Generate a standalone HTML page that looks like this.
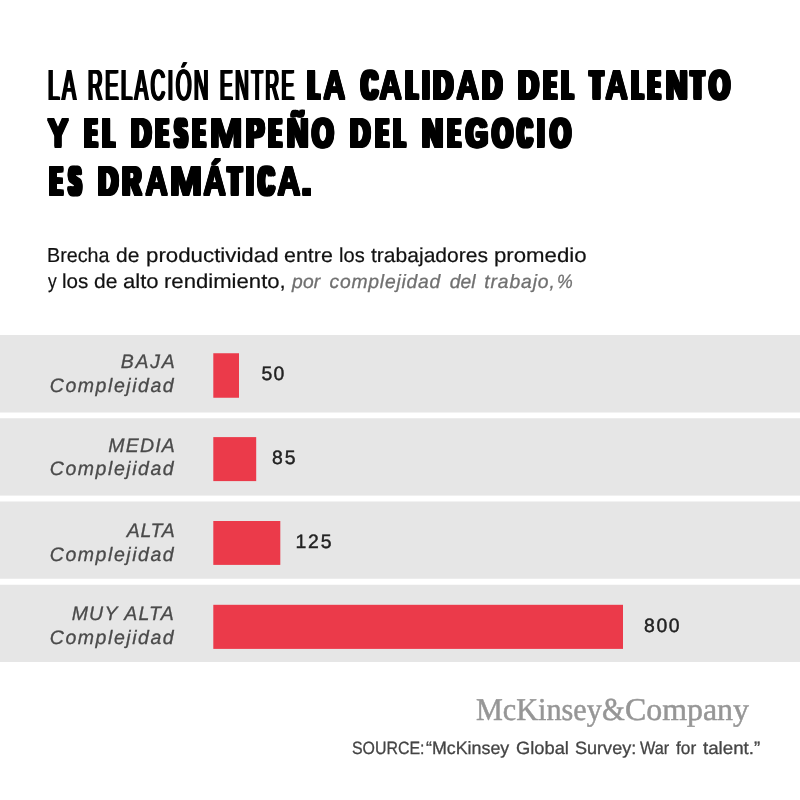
<!DOCTYPE html><html lang="es"><head><meta charset="utf-8"><title>La relación entre la calidad del talento y el desempeño del negocio</title><style>
html,body{margin:0;padding:0;background:#fff}
#p{position:relative;width:800px;height:800px;overflow:hidden;background:#fff}
.g{position:absolute;left:0;top:0;width:800px;height:0;margin:0;padding:0;font-size:0;line-height:0;white-space:nowrap;font-weight:400}
.t{display:inline-block;position:relative;width:0;height:0;overflow:visible;vertical-align:top;white-space:pre;line-height:1;transform-origin:0 0;margin:0;padding:0;text-rendering:geometricPrecision;stroke-linejoin:miter;stroke-miterlimit:4}
.pl i{display:inline-block;font-style:normal;transform-origin:0 0;vertical-align:baseline;white-space:pre}
.band{position:absolute;left:0;width:800px;background:#e6e6e6}
.bar{position:absolute;background:#eb3a4a}
.hl{font-family:"Liberation Sans", sans-serif;font-weight:400;font-style:normal;font-size:43.6px;color:#000}
.hb{font-family:"Liberation Sans", sans-serif;font-weight:700;font-style:normal;font-size:40.7px;color:#000}
.sub{font-family:"Liberation Sans", sans-serif;font-weight:400;font-style:normal;font-size:20.2px;color:#111;-webkit-text-stroke:0.2px #111}
.subi{font-family:"Liberation Sans", sans-serif;font-weight:400;font-style:italic;font-size:19.3px;color:#707070;-webkit-text-stroke:0.3px #707070}
.lab{font-family:"Liberation Sans", sans-serif;font-weight:400;font-style:italic;font-size:19.5px;color:#4a4a4a;-webkit-text-stroke:0.3px #4a4a4a}
.val{font-family:"Liberation Sans", sans-serif;font-weight:400;font-style:normal;font-size:19.4px;color:#222;-webkit-text-stroke:0.45px #222}
.mck{font-family:"Liberation Serif", serif;font-weight:400;font-style:normal;font-size:31.8px;color:#969696;-webkit-text-stroke:0.5px #969696}
.src{font-family:"Liberation Sans", sans-serif;font-weight:400;font-style:normal;font-size:17.8px;color:#444;-webkit-text-stroke:0.3px #444}
</style></head><body><div id="p">
<svg width="800" height="800" viewBox="0 0 800 800" style="position:absolute;left:0;top:0" aria-hidden="true">
<rect x="0" y="335" width="800" height="77.50" fill="#e6e6e6"/>
<rect x="0" y="418.25" width="800" height="77.35" fill="#e6e6e6"/>
<rect x="0" y="501.5" width="800" height="77.25" fill="#e6e6e6"/>
<rect x="0" y="584.75" width="800" height="77.25" fill="#e6e6e6"/>
<rect x="213.3" y="353.25" width="25.70" height="44.50" fill="#eb3a4a"/>
<rect x="213.3" y="437.1" width="42.90" height="44.00" fill="#eb3a4a"/>
<rect x="213.3" y="521" width="67.00" height="43.90" fill="#eb3a4a"/>
<rect x="213.3" y="604.8" width="409.70" height="44.10" fill="#eb3a4a"/>
</svg>
<h1 class="g"><span class="t hl" style="left:48.33px;top:65.00px;transform:scaleX(0.4767);letter-spacing:5.244px;font-kerning:none;text-shadow:2.41px 0 0 #000,-2.41px 0 0 #000,1.15px 0 0 #000,-1.15px 0 0 #000">LA</span> <span class="t hl" style="left:88.08px;top:65.00px;transform:scaleX(0.4622);letter-spacing:5.409px;font-kerning:none;text-shadow:2.49px 0 0 #000,-2.49px 0 0 #000,1.19px 0 0 #000,-1.19px 0 0 #000">RELACIÓN</span> <span class="t hl" style="left:220.27px;top:65.00px;transform:scaleX(0.4339);letter-spacing:5.761px;font-kerning:none;text-shadow:2.65px 0 0 #000,-2.65px 0 0 #000,1.27px 0 0 #000,-1.27px 0 0 #000">ENTRE</span> <span class="t hb pl" style="left:306.50px;top:65px"><i style="width:16.50px;transform:translateX(1.85px) scaleX(0.3895);text-shadow:0.00px 1.00px 0 #000,0.00px -1.00px 0 #000,7.29px 0.00px 0 #000,7.29px 1.00px 0 #000,7.29px -1.00px 0 #000,-7.29px 0.00px 0 #000,-7.29px 1.00px 0 #000,-7.29px -1.00px 0 #000,3.69px 0.00px 0 #000,3.69px 1.00px 0 #000,3.69px -1.00px 0 #000,-3.69px 0.00px 0 #000,-3.69px 1.00px 0 #000,-3.69px -1.00px 0 #000">L</i><i style="width:22.60px;transform:translateX(0.53px) scaleX(0.7362);text-shadow:0.00px 1.00px 0 #000,0.00px -1.00px 0 #000,1.36px 0.00px 0 #000,1.36px 1.00px 0 #000,1.36px -1.00px 0 #000,-1.36px 0.00px 0 #000,-1.36px 1.00px 0 #000,-1.36px -1.00px 0 #000">A</i></span> <span class="t hb pl" style="left:359.75px;top:65px"><i style="width:19.65px;transform:translateX(1.68px) scaleX(0.5448);text-shadow:0.00px 1.00px 0 #000,0.00px -1.00px 0 #000,4.36px 0.00px 0 #000,4.36px 1.00px 0 #000,4.36px -1.00px 0 #000,-4.36px 0.00px 0 #000,-4.36px 1.00px 0 #000,-4.36px -1.00px 0 #000,1.79px 0.00px 0 #000,1.79px 1.00px 0 #000,1.79px -1.00px 0 #000,-1.79px 0.00px 0 #000,-1.79px 1.00px 0 #000,-1.79px -1.00px 0 #000">C</i><i style="width:25.60px;transform:translateX(0.52px) scaleX(0.7541);text-shadow:0.00px 1.00px 0 #000,0.00px -1.00px 0 #000,1.33px 0.00px 0 #000,1.33px 1.00px 0 #000,1.33px -1.00px 0 #000,-1.33px 0.00px 0 #000,-1.33px 1.00px 0 #000,-1.33px -1.00px 0 #000">A</i><i style="width:17.10px;transform:translateX(1.74px) scaleX(0.4087);text-shadow:0.00px 1.00px 0 #000,0.00px -1.00px 0 #000,6.81px 0.00px 0 #000,6.81px 1.00px 0 #000,6.81px -1.00px 0 #000,-6.81px 0.00px 0 #000,-6.81px 1.00px 0 #000,-6.81px -1.00px 0 #000,3.38px 0.00px 0 #000,3.38px 1.00px 0 #000,3.38px -1.00px 0 #000,-3.38px 0.00px 0 #000,-3.38px 1.00px 0 #000,-3.38px -1.00px 0 #000">L</i><i style="width:11.20px;transform:translateX(0.04px) scaleX(0.6919);text-shadow:0.00px 1.00px 0 #000,0.00px -1.00px 0 #000,2.60px 0.00px 0 #000,2.60px 1.00px 0 #000,2.60px -1.00px 0 #000,-2.60px 0.00px 0 #000,-2.60px 1.00px 0 #000,-2.60px -1.00px 0 #000,0.58px 0.00px 0 #000,0.58px 1.00px 0 #000,0.58px -1.00px 0 #000,-0.58px 0.00px 0 #000,-0.58px 1.00px 0 #000,-0.58px -1.00px 0 #000">I</i><i style="width:22.70px;transform:translateX(0.28px) scaleX(0.6727);text-shadow:0.00px 1.00px 0 #000,0.00px -1.00px 0 #000,2.97px 0.00px 0 #000,2.97px 1.00px 0 #000,2.97px -1.00px 0 #000,-2.97px 0.00px 0 #000,-2.97px 1.00px 0 #000,-2.97px -1.00px 0 #000,0.88px 0.00px 0 #000,0.88px 1.00px 0 #000,0.88px -1.00px 0 #000,-0.88px 0.00px 0 #000,-0.88px 1.00px 0 #000,-0.88px -1.00px 0 #000">D</i><i style="width:25.90px;transform:translateX(0.51px) scaleX(0.7648);text-shadow:0.00px 1.00px 0 #000,0.00px -1.00px 0 #000,1.31px 0.00px 0 #000,1.31px 1.00px 0 #000,1.31px -1.00px 0 #000,-1.31px 0.00px 0 #000,-1.31px 1.00px 0 #000,-1.31px -1.00px 0 #000">A</i><i style="width:21.20px;transform:translateX(0.26px) scaleX(0.6778);text-shadow:0.00px 1.00px 0 #000,0.00px -1.00px 0 #000,2.92px 0.00px 0 #000,2.92px 1.00px 0 #000,2.92px -1.00px 0 #000,-2.92px 0.00px 0 #000,-2.92px 1.00px 0 #000,-2.92px -1.00px 0 #000,0.85px 0.00px 0 #000,0.85px 1.00px 0 #000,0.85px -1.00px 0 #000,-0.85px 0.00px 0 #000,-0.85px 1.00px 0 #000,-0.85px -1.00px 0 #000">D</i></span> <span class="t hb pl" style="left:517.75px;top:65px"><i style="width:25.35px;transform:translateX(0.13px) scaleX(0.7009);text-shadow:0.00px 1.00px 0 #000,0.00px -1.00px 0 #000,2.73px 0.00px 0 #000,2.73px 1.00px 0 #000,2.73px -1.00px 0 #000,-2.73px 0.00px 0 #000,-2.73px 1.00px 0 #000,-2.73px -1.00px 0 #000,0.73px 0.00px 0 #000,0.73px 1.00px 0 #000,0.73px -1.00px 0 #000,-0.73px 0.00px 0 #000,-0.73px 1.00px 0 #000,-0.73px -1.00px 0 #000">D</i><i style="width:18.15px;transform:translateX(1.80px) scaleX(0.3985);text-shadow:0.00px 1.00px 0 #000,0.00px -1.00px 0 #000,7.06px 0.00px 0 #000,7.06px 1.00px 0 #000,7.06px -1.00px 0 #000,-7.06px 0.00px 0 #000,-7.06px 1.00px 0 #000,-7.06px -1.00px 0 #000,3.54px 0.00px 0 #000,3.54px 1.00px 0 #000,3.54px -1.00px 0 #000,-3.54px 0.00px 0 #000,-3.54px 1.00px 0 #000,-3.54px -1.00px 0 #000">E</i><i style="width:13.75px;transform:translateX(1.97px) scaleX(0.3672);text-shadow:0.00px 1.00px 0 #000,0.00px -1.00px 0 #000,7.91px 0.00px 0 #000,7.91px 1.00px 0 #000,7.91px -1.00px 0 #000,-7.91px 0.00px 0 #000,-7.91px 1.00px 0 #000,-7.91px -1.00px 0 #000,4.10px 0.00px 0 #000,4.10px 1.00px 0 #000,4.10px -1.00px 0 #000,-4.10px 0.00px 0 #000,-4.10px 1.00px 0 #000,-4.10px -1.00px 0 #000,0.29px 0.00px 0 #000,0.29px 1.00px 0 #000,0.29px -1.00px 0 #000,-0.29px 0.00px 0 #000,-0.29px 1.00px 0 #000,-0.29px -1.00px 0 #000">L</i></span> <span class="t hb pl" style="left:588.10px;top:65px"><i style="width:16.90px;transform:translateX(2.59px) scaleX(0.4724);text-shadow:0.00px 1.00px 0 #000,0.00px -1.00px 0 #000,5.49px 0.00px 0 #000,5.49px 1.00px 0 #000,5.49px -1.00px 0 #000,-5.49px 0.00px 0 #000,-5.49px 1.00px 0 #000,-5.49px -1.00px 0 #000,2.52px 0.00px 0 #000,2.52px 1.00px 0 #000,2.52px -1.00px 0 #000,-2.52px 0.00px 0 #000,-2.52px 1.00px 0 #000,-2.52px -1.00px 0 #000">T</i><i style="width:25.60px;transform:translateX(0.52px) scaleX(0.7541);text-shadow:0.00px 1.00px 0 #000,0.00px -1.00px 0 #000,1.33px 0.00px 0 #000,1.33px 1.00px 0 #000,1.33px -1.00px 0 #000,-1.33px 0.00px 0 #000,-1.33px 1.00px 0 #000,-1.33px -1.00px 0 #000">A</i><i style="width:16.65px;transform:translateX(1.95px) scaleX(0.3704);text-shadow:0.00px 1.00px 0 #000,0.00px -1.00px 0 #000,7.82px 0.00px 0 #000,7.82px 1.00px 0 #000,7.82px -1.00px 0 #000,-7.82px 0.00px 0 #000,-7.82px 1.00px 0 #000,-7.82px -1.00px 0 #000,4.04px 0.00px 0 #000,4.04px 1.00px 0 #000,4.04px -1.00px 0 #000,-4.04px 0.00px 0 #000,-4.04px 1.00px 0 #000,-4.04px -1.00px 0 #000,0.26px 0.00px 0 #000,0.26px 1.00px 0 #000,0.26px -1.00px 0 #000,-0.26px 0.00px 0 #000,-0.26px 1.00px 0 #000,-0.26px -1.00px 0 #000">L</i><i style="width:18.35px;transform:translateX(1.91px) scaleX(0.3785);text-shadow:0.00px 1.00px 0 #000,0.00px -1.00px 0 #000,7.59px 0.00px 0 #000,7.59px 1.00px 0 #000,7.59px -1.00px 0 #000,-7.59px 0.00px 0 #000,-7.59px 1.00px 0 #000,-7.59px -1.00px 0 #000,3.89px 0.00px 0 #000,3.89px 1.00px 0 #000,3.89px -1.00px 0 #000,-3.89px 0.00px 0 #000,-3.89px 1.00px 0 #000,-3.89px -1.00px 0 #000,0.19px 0.00px 0 #000,0.19px 1.00px 0 #000,0.19px -1.00px 0 #000,-0.19px 0.00px 0 #000,-0.19px 1.00px 0 #000,-0.19px -1.00px 0 #000">E</i><i style="width:23.80px;transform:translateX(-0.04px) scaleX(0.7306);text-shadow:0.00px 1.00px 0 #000,0.00px -1.00px 0 #000,2.49px 0.00px 0 #000,2.49px 1.00px 0 #000,2.49px -1.00px 0 #000,-2.49px 0.00px 0 #000,-2.49px 1.00px 0 #000,-2.49px -1.00px 0 #000,0.58px 0.00px 0 #000,0.58px 1.00px 0 #000,0.58px -1.00px 0 #000,-0.58px 0.00px 0 #000,-0.58px 1.00px 0 #000,-0.58px -1.00px 0 #000">N</i><i style="width:18.70px;transform:translateX(2.60px) scaleX(0.4698);text-shadow:0.00px 1.00px 0 #000,0.00px -1.00px 0 #000,5.53px 0.00px 0 #000,5.53px 1.00px 0 #000,5.53px -1.00px 0 #000,-5.53px 0.00px 0 #000,-5.53px 1.00px 0 #000,-5.53px -1.00px 0 #000,2.55px 0.00px 0 #000,2.55px 1.00px 0 #000,2.55px -1.00px 0 #000,-2.55px 0.00px 0 #000,-2.55px 1.00px 0 #000,-2.55px -1.00px 0 #000">T</i><i style="width:23.15px;transform:translateX(1.23px) scaleX(0.6505);text-shadow:0.00px 1.00px 0 #000,0.00px -1.00px 0 #000,3.17px 0.00px 0 #000,3.17px 1.00px 0 #000,3.17px -1.00px 0 #000,-3.17px 0.00px 0 #000,-3.17px 1.00px 0 #000,-3.17px -1.00px 0 #000,1.02px 0.00px 0 #000,1.02px 1.00px 0 #000,1.02px -1.00px 0 #000,-1.02px 0.00px 0 #000,-1.02px 1.00px 0 #000,-1.02px -1.00px 0 #000">O</i></span> <span class="t hb pl" style="left:46.90px;top:113px"><i style="width:22.10px;transform:translateX(0.72px) scaleX(0.7556);text-shadow:0.00px 1.00px 0 #000,0.00px -1.00px 0 #000,1.59px 0.00px 0 #000,1.59px 1.00px 0 #000,1.59px -1.00px 0 #000,-1.59px 0.00px 0 #000,-1.59px 1.00px 0 #000,-1.59px -1.00px 0 #000">Y</i></span> <span class="t hb pl" style="left:83.50px;top:113px"><i style="width:18.40px;transform:translateX(1.92px) scaleX(0.3757);text-shadow:0.00px 1.00px 0 #000,0.00px -1.00px 0 #000,7.67px 0.00px 0 #000,7.67px 1.00px 0 #000,7.67px -1.00px 0 #000,-7.67px 0.00px 0 #000,-7.67px 1.00px 0 #000,-7.67px -1.00px 0 #000,3.94px 0.00px 0 #000,3.94px 1.00px 0 #000,3.94px -1.00px 0 #000,-3.94px 0.00px 0 #000,-3.94px 1.00px 0 #000,-3.94px -1.00px 0 #000,0.21px 0.00px 0 #000,0.21px 1.00px 0 #000,0.21px -1.00px 0 #000,-0.21px 0.00px 0 #000,-0.21px 1.00px 0 #000,-0.21px -1.00px 0 #000">E</i><i style="width:14.10px;transform:translateX(1.85px) scaleX(0.3895);text-shadow:0.00px 1.00px 0 #000,0.00px -1.00px 0 #000,7.29px 0.00px 0 #000,7.29px 1.00px 0 #000,7.29px -1.00px 0 #000,-7.29px 0.00px 0 #000,-7.29px 1.00px 0 #000,-7.29px -1.00px 0 #000,3.69px 0.00px 0 #000,3.69px 1.00px 0 #000,3.69px -1.00px 0 #000,-3.69px 0.00px 0 #000,-3.69px 1.00px 0 #000,-3.69px -1.00px 0 #000">L</i></span> <span class="t hb pl" style="left:130.60px;top:113px"><i style="width:24.40px;transform:translateX(0.23px) scaleX(0.6829);text-shadow:0.00px 1.00px 0 #000,0.00px -1.00px 0 #000,2.88px 0.00px 0 #000,2.88px 1.00px 0 #000,2.88px -1.00px 0 #000,-2.88px 0.00px 0 #000,-2.88px 1.00px 0 #000,-2.88px -1.00px 0 #000,0.83px 0.00px 0 #000,0.83px 1.00px 0 #000,0.83px -1.00px 0 #000,-0.83px 0.00px 0 #000,-0.83px 1.00px 0 #000,-0.83px -1.00px 0 #000">D</i><i style="width:18.10px;transform:translateX(1.88px) scaleX(0.3842);text-shadow:0.00px 1.00px 0 #000,0.00px -1.00px 0 #000,7.43px 0.00px 0 #000,7.43px 1.00px 0 #000,7.43px -1.00px 0 #000,-7.43px 0.00px 0 #000,-7.43px 1.00px 0 #000,-7.43px -1.00px 0 #000,3.79px 0.00px 0 #000,3.79px 1.00px 0 #000,3.79px -1.00px 0 #000,-3.79px 0.00px 0 #000,-3.79px 1.00px 0 #000,-3.79px -1.00px 0 #000,0.14px 0.00px 0 #000,0.14px 1.00px 0 #000,0.14px -1.00px 0 #000,-0.14px 0.00px 0 #000,-0.14px 1.00px 0 #000,-0.14px -1.00px 0 #000">E</i><i style="width:19.15px;transform:translateX(2.58px) scaleX(0.3928);text-shadow:0.00px 1.00px 0 #000,0.00px -1.00px 0 #000,7.20px 0.00px 0 #000,7.20px 1.00px 0 #000,7.20px -1.00px 0 #000,-7.20px 0.00px 0 #000,-7.20px 1.00px 0 #000,-7.20px -1.00px 0 #000,3.64px 0.00px 0 #000,3.64px 1.00px 0 #000,3.64px -1.00px 0 #000,-3.64px 0.00px 0 #000,-3.64px 1.00px 0 #000,-3.64px -1.00px 0 #000">S</i><i style="width:18.35px;transform:translateX(1.91px) scaleX(0.3785);text-shadow:0.00px 1.00px 0 #000,0.00px -1.00px 0 #000,7.59px 0.00px 0 #000,7.59px 1.00px 0 #000,7.59px -1.00px 0 #000,-7.59px 0.00px 0 #000,-7.59px 1.00px 0 #000,-7.59px -1.00px 0 #000,3.89px 0.00px 0 #000,3.89px 1.00px 0 #000,3.89px -1.00px 0 #000,-3.89px 0.00px 0 #000,-3.89px 1.00px 0 #000,-3.89px -1.00px 0 #000,0.19px 0.00px 0 #000,0.19px 1.00px 0 #000,0.19px -1.00px 0 #000,-0.19px 0.00px 0 #000,-0.19px 1.00px 0 #000,-0.19px -1.00px 0 #000">E</i><i style="width:35.00px;transform:translateX(-1.37px) scaleX(0.9725);text-shadow:0.00px 1.00px 0 #000,0.00px -1.00px 0 #000,1.13px 0.00px 0 #000,1.13px 1.00px 0 #000,1.13px -1.00px 0 #000,-1.13px 0.00px 0 #000,-1.13px 1.00px 0 #000,-1.13px -1.00px 0 #000">M</i><i style="width:22.50px;transform:translateX(0.41px) scaleX(0.6489);text-shadow:0.00px 1.00px 0 #000,0.00px -1.00px 0 #000,3.18px 0.00px 0 #000,3.18px 1.00px 0 #000,3.18px -1.00px 0 #000,-3.18px 0.00px 0 #000,-3.18px 1.00px 0 #000,-3.18px -1.00px 0 #000,1.03px 0.00px 0 #000,1.03px 1.00px 0 #000,1.03px -1.00px 0 #000,-1.03px 0.00px 0 #000,-1.03px 1.00px 0 #000,-1.03px -1.00px 0 #000">P</i><i style="width:18.80px;transform:translateX(1.80px) scaleX(0.3985);text-shadow:0.00px 1.00px 0 #000,0.00px -1.00px 0 #000,7.06px 0.00px 0 #000,7.06px 1.00px 0 #000,7.06px -1.00px 0 #000,-7.06px 0.00px 0 #000,-7.06px 1.00px 0 #000,-7.06px -1.00px 0 #000,3.54px 0.00px 0 #000,3.54px 1.00px 0 #000,3.54px -1.00px 0 #000,-3.54px 0.00px 0 #000,-3.54px 1.00px 0 #000,-3.54px -1.00px 0 #000">E</i><i style="width:24.35px;transform:translateX(-0.01px) scaleX(0.7252);text-shadow:0.00px 1.00px 0 #000,0.00px -1.00px 0 #000,2.53px 0.00px 0 #000,2.53px 1.00px 0 #000,2.53px -1.00px 0 #000,-2.53px 0.00px 0 #000,-2.53px 1.00px 0 #000,-2.53px -1.00px 0 #000,0.60px 0.00px 0 #000,0.60px 1.00px 0 #000,0.60px -1.00px 0 #000,-0.60px 0.00px 0 #000,-0.60px 1.00px 0 #000,-0.60px -1.00px 0 #000">Ñ</i><i style="width:23.75px;transform:translateX(1.12px) scaleX(0.6762);text-shadow:0.00px 1.00px 0 #000,0.00px -1.00px 0 #000,2.93px 0.00px 0 #000,2.93px 1.00px 0 #000,2.93px -1.00px 0 #000,-2.93px 0.00px 0 #000,-2.93px 1.00px 0 #000,-2.93px -1.00px 0 #000,0.86px 0.00px 0 #000,0.86px 1.00px 0 #000,0.86px -1.00px 0 #000,-0.86px 0.00px 0 #000,-0.86px 1.00px 0 #000,-0.86px -1.00px 0 #000">O</i></span> <span class="t hb pl" style="left:350.00px;top:113px"><i style="width:25.00px;transform:translateX(0.24px) scaleX(0.6804);text-shadow:0.00px 1.00px 0 #000,0.00px -1.00px 0 #000,2.90px 0.00px 0 #000,2.90px 1.00px 0 #000,2.90px -1.00px 0 #000,-2.90px 0.00px 0 #000,-2.90px 1.00px 0 #000,-2.90px -1.00px 0 #000,0.84px 0.00px 0 #000,0.84px 1.00px 0 #000,0.84px -1.00px 0 #000,-0.84px 0.00px 0 #000,-0.84px 1.00px 0 #000,-0.84px -1.00px 0 #000">D</i><i style="width:18.10px;transform:translateX(1.80px) scaleX(0.3985);text-shadow:0.00px 1.00px 0 #000,0.00px -1.00px 0 #000,7.06px 0.00px 0 #000,7.06px 1.00px 0 #000,7.06px -1.00px 0 #000,-7.06px 0.00px 0 #000,-7.06px 1.00px 0 #000,-7.06px -1.00px 0 #000,3.54px 0.00px 0 #000,3.54px 1.00px 0 #000,3.54px -1.00px 0 #000,-3.54px 0.00px 0 #000,-3.54px 1.00px 0 #000,-3.54px -1.00px 0 #000">E</i><i style="width:13.80px;transform:translateX(1.95px) scaleX(0.3704);text-shadow:0.00px 1.00px 0 #000,0.00px -1.00px 0 #000,7.82px 0.00px 0 #000,7.82px 1.00px 0 #000,7.82px -1.00px 0 #000,-7.82px 0.00px 0 #000,-7.82px 1.00px 0 #000,-7.82px -1.00px 0 #000,4.04px 0.00px 0 #000,4.04px 1.00px 0 #000,4.04px -1.00px 0 #000,-4.04px 0.00px 0 #000,-4.04px 1.00px 0 #000,-4.04px -1.00px 0 #000,0.26px 0.00px 0 #000,0.26px 1.00px 0 #000,0.26px -1.00px 0 #000,-0.26px 0.00px 0 #000,-0.26px 1.00px 0 #000,-0.26px -1.00px 0 #000">L</i></span> <span class="t hb pl" style="left:422.00px;top:113px"><i style="width:25.00px;transform:translateX(0.05px) scaleX(0.7142);text-shadow:0.00px 1.00px 0 #000,0.00px -1.00px 0 #000,2.62px 0.00px 0 #000,2.62px 1.00px 0 #000,2.62px -1.00px 0 #000,-2.62px 0.00px 0 #000,-2.62px 1.00px 0 #000,-2.62px -1.00px 0 #000,0.66px 0.00px 0 #000,0.66px 1.00px 0 #000,0.66px -1.00px 0 #000,-0.66px 0.00px 0 #000,-0.66px 1.00px 0 #000,-0.66px -1.00px 0 #000">N</i><i style="width:18.10px;transform:translateX(1.80px) scaleX(0.3985);text-shadow:0.00px 1.00px 0 #000,0.00px -1.00px 0 #000,7.06px 0.00px 0 #000,7.06px 1.00px 0 #000,7.06px -1.00px 0 #000,-7.06px 0.00px 0 #000,-7.06px 1.00px 0 #000,-7.06px -1.00px 0 #000,3.54px 0.00px 0 #000,3.54px 1.00px 0 #000,3.54px -1.00px 0 #000,-3.54px 0.00px 0 #000,-3.54px 1.00px 0 #000,-3.54px -1.00px 0 #000">E</i><i style="width:25.65px;transform:translateX(1.07px) scaleX(0.6881);text-shadow:0.00px 1.00px 0 #000,0.00px -1.00px 0 #000,2.83px 0.00px 0 #000,2.83px 1.00px 0 #000,2.83px -1.00px 0 #000,-2.83px 0.00px 0 #000,-2.83px 1.00px 0 #000,-2.83px -1.00px 0 #000,0.80px 0.00px 0 #000,0.80px 1.00px 0 #000,0.80px -1.00px 0 #000,-0.80px 0.00px 0 #000,-0.80px 1.00px 0 #000,-0.80px -1.00px 0 #000">G</i><i style="width:25.50px;transform:translateX(1.23px) scaleX(0.6505);text-shadow:0.00px 1.00px 0 #000,0.00px -1.00px 0 #000,3.17px 0.00px 0 #000,3.17px 1.00px 0 #000,3.17px -1.00px 0 #000,-3.17px 0.00px 0 #000,-3.17px 1.00px 0 #000,-3.17px -1.00px 0 #000,1.02px 0.00px 0 #000,1.02px 1.00px 0 #000,1.02px -1.00px 0 #000,-1.02px 0.00px 0 #000,-1.02px 1.00px 0 #000,-1.02px -1.00px 0 #000">O</i><i style="width:21.00px;transform:translateX(1.98px) scaleX(0.4747);text-shadow:0.00px 1.00px 0 #000,0.00px -1.00px 0 #000,5.45px 0.00px 0 #000,5.45px 1.00px 0 #000,5.45px -1.00px 0 #000,-5.45px 0.00px 0 #000,-5.45px 1.00px 0 #000,-5.45px -1.00px 0 #000,2.50px 0.00px 0 #000,2.50px 1.00px 0 #000,2.50px -1.00px 0 #000,-2.50px 0.00px 0 #000,-2.50px 1.00px 0 #000,-2.50px -1.00px 0 #000">C</i><i style="width:11.50px;transform:translateX(0.14px) scaleX(0.6526);text-shadow:0.00px 1.00px 0 #000,0.00px -1.00px 0 #000,2.76px 0.00px 0 #000,2.76px 1.00px 0 #000,2.76px -1.00px 0 #000,-2.76px 0.00px 0 #000,-2.76px 1.00px 0 #000,-2.76px -1.00px 0 #000,0.61px 0.00px 0 #000,0.61px 1.00px 0 #000,0.61px -1.00px 0 #000,-0.61px 0.00px 0 #000,-0.61px 1.00px 0 #000,-0.61px -1.00px 0 #000">I</i><i style="width:23.15px;transform:translateX(1.23px) scaleX(0.6505);text-shadow:0.00px 1.00px 0 #000,0.00px -1.00px 0 #000,3.17px 0.00px 0 #000,3.17px 1.00px 0 #000,3.17px -1.00px 0 #000,-3.17px 0.00px 0 #000,-3.17px 1.00px 0 #000,-3.17px -1.00px 0 #000,1.02px 0.00px 0 #000,1.02px 1.00px 0 #000,1.02px -1.00px 0 #000,-1.02px 0.00px 0 #000,-1.02px 1.00px 0 #000,-1.02px -1.00px 0 #000">O</i></span> <span class="t hb pl" style="left:48.75px;top:161px"><i style="width:18.15px;transform:translateX(1.80px) scaleX(0.3985);text-shadow:0.00px 1.00px 0 #000,0.00px -1.00px 0 #000,7.06px 0.00px 0 #000,7.06px 1.00px 0 #000,7.06px -1.00px 0 #000,-7.06px 0.00px 0 #000,-7.06px 1.00px 0 #000,-7.06px -1.00px 0 #000,3.54px 0.00px 0 #000,3.54px 1.00px 0 #000,3.54px -1.00px 0 #000,-3.54px 0.00px 0 #000,-3.54px 1.00px 0 #000,-3.54px -1.00px 0 #000">E</i><i style="width:15.60px;transform:translateX(2.59px) scaleX(0.3902);text-shadow:0.00px 1.00px 0 #000,0.00px -1.00px 0 #000,7.27px 0.00px 0 #000,7.27px 1.00px 0 #000,7.27px -1.00px 0 #000,-7.27px 0.00px 0 #000,-7.27px 1.00px 0 #000,-7.27px -1.00px 0 #000,3.68px 0.00px 0 #000,3.68px 1.00px 0 #000,3.68px -1.00px 0 #000,-3.68px 0.00px 0 #000,-3.68px 1.00px 0 #000,-3.68px -1.00px 0 #000">S</i></span> <span class="t hb pl" style="left:97.75px;top:161px"><i style="width:24.65px;transform:translateX(0.24px) scaleX(0.6804);text-shadow:0.00px 1.00px 0 #000,0.00px -1.00px 0 #000,2.90px 0.00px 0 #000,2.90px 1.00px 0 #000,2.90px -1.00px 0 #000,-2.90px 0.00px 0 #000,-2.90px 1.00px 0 #000,-2.90px -1.00px 0 #000,0.84px 0.00px 0 #000,0.84px 1.00px 0 #000,0.84px -1.00px 0 #000,-0.84px 0.00px 0 #000,-0.84px 1.00px 0 #000,-0.84px -1.00px 0 #000">D</i><i style="width:22.50px;transform:translateX(0.54px) scaleX(0.6265);text-shadow:0.00px 1.00px 0 #000,0.00px -1.00px 0 #000,3.40px 0.00px 0 #000,3.40px 1.00px 0 #000,3.40px -1.00px 0 #000,-3.40px 0.00px 0 #000,-3.40px 1.00px 0 #000,-3.40px -1.00px 0 #000,1.17px 0.00px 0 #000,1.17px 1.00px 0 #000,1.17px -1.00px 0 #000,-1.17px 0.00px 0 #000,-1.17px 1.00px 0 #000,-1.17px -1.00px 0 #000">R</i><i style="width:26.10px;transform:translateX(0.52px) scaleX(0.7541);text-shadow:0.00px 1.00px 0 #000,0.00px -1.00px 0 #000,1.33px 0.00px 0 #000,1.33px 1.00px 0 #000,1.33px -1.00px 0 #000,-1.33px 0.00px 0 #000,-1.33px 1.00px 0 #000,-1.33px -1.00px 0 #000">A</i><i style="width:32.10px;transform:translateX(-1.28px) scaleX(0.9553);text-shadow:0.00px 1.00px 0 #000,0.00px -1.00px 0 #000,1.21px 0.00px 0 #000,1.21px 1.00px 0 #000,1.21px -1.00px 0 #000,-1.21px 0.00px 0 #000,-1.21px 1.00px 0 #000,-1.21px -1.00px 0 #000">M</i><i style="width:23.15px;transform:translateX(0.52px) scaleX(0.7559);text-shadow:0.00px 1.00px 0 #000,0.00px -1.00px 0 #000,1.32px 0.00px 0 #000,1.32px 1.00px 0 #000,1.32px -1.00px 0 #000,-1.32px 0.00px 0 #000,-1.32px 1.00px 0 #000,-1.32px -1.00px 0 #000">Á</i><i style="width:20.05px;transform:translateX(2.50px) scaleX(0.5043);text-shadow:0.00px 1.00px 0 #000,0.00px -1.00px 0 #000,4.95px 0.00px 0 #000,4.95px 1.00px 0 #000,4.95px -1.00px 0 #000,-4.95px 0.00px 0 #000,-4.95px 1.00px 0 #000,-4.95px -1.00px 0 #000,2.17px 0.00px 0 #000,2.17px 1.00px 0 #000,2.17px -1.00px 0 #000,-2.17px 0.00px 0 #000,-2.17px 1.00px 0 #000,-2.17px -1.00px 0 #000">T</i><i style="width:10.90px;transform:translateX(0.12px) scaleX(0.6604);text-shadow:0.00px 1.00px 0 #000,0.00px -1.00px 0 #000,2.73px 0.00px 0 #000,2.73px 1.00px 0 #000,2.73px -1.00px 0 #000,-2.73px 0.00px 0 #000,-2.73px 1.00px 0 #000,-2.73px -1.00px 0 #000,0.61px 0.00px 0 #000,0.61px 1.00px 0 #000,0.61px -1.00px 0 #000,-0.61px 0.00px 0 #000,-0.61px 1.00px 0 #000,-0.61px -1.00px 0 #000">I</i><i style="width:19.70px;transform:translateX(1.80px) scaleX(0.5168);text-shadow:0.00px 1.00px 0 #000,0.00px -1.00px 0 #000,4.76px 0.00px 0 #000,4.76px 1.00px 0 #000,4.76px -1.00px 0 #000,-4.76px 0.00px 0 #000,-4.76px 1.00px 0 #000,-4.76px -1.00px 0 #000,2.05px 0.00px 0 #000,2.05px 1.00px 0 #000,2.05px -1.00px 0 #000,-2.05px 0.00px 0 #000,-2.05px 1.00px 0 #000,-2.05px -1.00px 0 #000">C</i><i style="width:25.00px;transform:translateX(0.51px) scaleX(0.7755);text-shadow:0.00px 1.00px 0 #000,0.00px -1.00px 0 #000,1.29px 0.00px 0 #000,1.29px 1.00px 0 #000,1.29px -1.00px 0 #000,-1.29px 0.00px 0 #000,-1.29px 1.00px 0 #000,-1.29px -1.00px 0 #000">A</i><i style="width:9.35px;transform:translateX(-2.84px) scaleX(1.3130);text-shadow:0.00px 1.00px 0 #000,0.00px -1.00px 0 #000,0.38px 0.00px 0 #000,0.38px 1.00px 0 #000,0.38px -1.00px 0 #000,-0.38px 0.00px 0 #000,-0.38px 1.00px 0 #000,-0.38px -1.00px 0 #000">.</i></span></h1>
<p class="g"><span class="t sub" style="left:46.66px;top:246.00px;transform:scaleX(0.9768)">Brecha</span> <span class="t sub" style="left:116.35px;top:246.00px;transform:scaleX(1.0415)">de</span> <span class="t sub" style="left:145.62px;top:246.00px;transform:scaleX(1.1038)">productividad</span> <span class="t sub" style="left:283.84px;top:246.00px;transform:scaleX(1.0605)">entre</span> <span class="t sub" style="left:338.59px;top:246.00px;transform:scaleX(0.9947)">los</span> <span class="t sub" style="left:370.70px;top:246.00px;transform:scaleX(1.0428)">trabajadores</span> <span class="t sub" style="left:493.72px;top:246.00px;transform:scaleX(1.1004)">promedio</span> <span class="t sub" style="left:47.84px;top:272.00px;transform:scaleX(0.8592)">y</span> <span class="t sub" style="left:61.91px;top:272.00px;transform:scaleX(1.0216)">los</span> <span class="t sub" style="left:93.85px;top:272.00px;transform:scaleX(1.0415)">de</span> <span class="t sub" style="left:122.92px;top:272.00px;transform:scaleX(1.0936)">alto</span> <span class="t sub" style="left:163.73px;top:272.00px;transform:scaleX(1.0959)">rendimiento,</span> <span class="t subi" style="left:292.00px;top:273.00px;letter-spacing:0.196px">por</span> <span class="t subi" style="left:329.55px;top:273.00px;letter-spacing:0.783px">complejidad</span> <span class="t subi" style="left:449.80px;top:273.00px;letter-spacing:0.005px">del</span> <span class="t subi" style="left:484.30px;top:273.00px;letter-spacing:0.889px">trabajo,</span> <span class="t subi" style="left:556.53px;top:273.00px;transform:scaleX(0.9184)">%</span></p>
<div class="g"><span class="t lab" style="left:120.65px;top:353.00px;letter-spacing:1.818px">BAJA</span> <span class="t lab" style="left:49.74px;top:377.00px;letter-spacing:1.559px">Complejidad</span></div>
<div class="g"><span class="t lab" style="left:108.35px;top:437.00px;letter-spacing:1.192px">MEDIA</span> <span class="t lab" style="left:49.74px;top:460.00px;letter-spacing:1.559px">Complejidad</span></div>
<div class="g"><span class="t lab" style="left:126.67px;top:522.00px;letter-spacing:0.775px">ALTA</span> <span class="t lab" style="left:49.74px;top:546.00px;letter-spacing:1.559px">Complejidad</span></div>
<div class="g"><span class="t lab" style="left:71.65px;top:605.00px;letter-spacing:1.228px">MUY ALTA</span> <span class="t lab" style="left:49.74px;top:629.00px;letter-spacing:1.559px">Complejidad</span></div>
<div class="g"><span class="t val" style="left:261.62px;top:365.00px;letter-spacing:1.061px">50</span> <span class="t val" style="left:272.12px;top:449.00px;letter-spacing:1.864px">85</span> <span class="t val" style="left:295.51px;top:533.00px;letter-spacing:1.840px">125</span> <span class="t val" style="left:644.12px;top:617.00px;letter-spacing:1.486px">800</span></div>
<div class="g"><span class="t mck" style="left:476.02px;top:694.00px;transform:scaleX(0.9492)">McKinsey</span><span class="t mck" style="left:602.31px;top:694.00px;transform:scaleX(0.9223)">&</span><span class="t mck" style="left:624.85px;top:694.00px;transform:scaleX(1.0019)">Company</span></div>
<div class="g"><span class="t src" style="left:351.89px;top:740.00px;transform:scaleX(0.8942)">SOURCE:</span> <span class="t src" style="left:426.49px;top:740.00px;transform:scaleX(1.0033)">“McKinsey</span> <span class="t src" style="left:516.20px;top:740.00px;transform:scaleX(1.0292)">Global</span> <span class="t src" style="left:574.59px;top:740.00px;transform:scaleX(1.0157)">Survey:</span> <span class="t src" style="left:640.14px;top:740.00px;transform:scaleX(0.9136)">War</span> <span class="t src" style="left:675.75px;top:740.00px;transform:scaleX(0.9721)">for</span> <span class="t src" style="left:703.26px;top:740.00px;transform:scaleX(1.0523)">talent.”</span></div>
</div></body></html>
